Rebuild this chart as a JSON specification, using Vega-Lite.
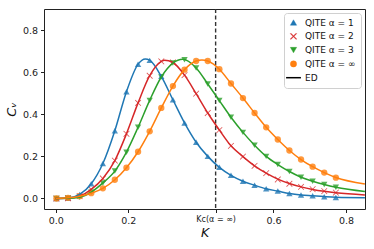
{
  "$schema": "https://vega.github.io/schema/vega-lite/v6.json",
  "width": 321,
  "height": 200,
  "autosize": {"type": "none"},
  "padding": {"left": 44, "top": 9, "right": 9, "bottom": 40},
  "config": {
    "font": "DejaVu Sans",
    "view": {"stroke": "#222", "strokeWidth": 1},
    "axis": {"grid": false, "domain": false, "tickColor": "#222", "tickSize": 3.5, "labelFontSize": 9.5, "labelColor": "#222", "titleColor": "#111", "titleFontWeight": "normal"}
  },
  "datasets": {
    "qite": [
      {"s": "QITE α = 1", "K": 0.002, "C": 0.0}, {"s": "QITE α = 1", "K": 0.034, "C": 0.002}, {"s": "QITE α = 1", "K": 0.066, "C": 0.019}, {"s": "QITE α = 1", "K": 0.098, "C": 0.07}, {"s": "QITE α = 1", "K": 0.130, "C": 0.166}, {"s": "QITE α = 1", "K": 0.163, "C": 0.322}, {"s": "QITE α = 1", "K": 0.195, "C": 0.507}, {"s": "QITE α = 1", "K": 0.227, "C": 0.638}, {"s": "QITE α = 1", "K": 0.259, "C": 0.656}, {"s": "QITE α = 1", "K": 0.291, "C": 0.58}, {"s": "QITE α = 1", "K": 0.323, "C": 0.469}, {"s": "QITE α = 1", "K": 0.355, "C": 0.359}, {"s": "QITE α = 1", "K": 0.387, "C": 0.267}, {"s": "QITE α = 1", "K": 0.419, "C": 0.2}, {"s": "QITE α = 1", "K": 0.451, "C": 0.148}, {"s": "QITE α = 1", "K": 0.483, "C": 0.11}, {"s": "QITE α = 1", "K": 0.516, "C": 0.082}, {"s": "QITE α = 1", "K": 0.548, "C": 0.063}, {"s": "QITE α = 1", "K": 0.580, "C": 0.046}, {"s": "QITE α = 1", "K": 0.612, "C": 0.035}, {"s": "QITE α = 1", "K": 0.644, "C": 0.024}, {"s": "QITE α = 1", "K": 0.676, "C": 0.017}, {"s": "QITE α = 1", "K": 0.708, "C": 0.013}, {"s": "QITE α = 1", "K": 0.740, "C": 0.008}, {"s": "QITE α = 1", "K": 0.772, "C": 0.005},
      {"s": "QITE α = 2", "K": 0.002, "C": 0.0}, {"s": "QITE α = 2", "K": 0.034, "C": 0.001}, {"s": "QITE α = 2", "K": 0.066, "C": 0.011}, {"s": "QITE α = 2", "K": 0.098, "C": 0.043}, {"s": "QITE α = 2", "K": 0.130, "C": 0.095}, {"s": "QITE α = 2", "K": 0.163, "C": 0.18}, {"s": "QITE α = 2", "K": 0.195, "C": 0.307}, {"s": "QITE α = 2", "K": 0.227, "C": 0.454}, {"s": "QITE α = 2", "K": 0.259, "C": 0.583}, {"s": "QITE α = 2", "K": 0.291, "C": 0.651}, {"s": "QITE α = 2", "K": 0.323, "C": 0.646}, {"s": "QITE α = 2", "K": 0.355, "C": 0.586}, {"s": "QITE α = 2", "K": 0.387, "C": 0.498}, {"s": "QITE α = 2", "K": 0.419, "C": 0.406}, {"s": "QITE α = 2", "K": 0.451, "C": 0.325}, {"s": "QITE α = 2", "K": 0.483, "C": 0.25}, {"s": "QITE α = 2", "K": 0.516, "C": 0.199}, {"s": "QITE α = 2", "K": 0.548, "C": 0.155}, {"s": "QITE α = 2", "K": 0.580, "C": 0.12}, {"s": "QITE α = 2", "K": 0.612, "C": 0.09}, {"s": "QITE α = 2", "K": 0.644, "C": 0.07}, {"s": "QITE α = 2", "K": 0.676, "C": 0.055}, {"s": "QITE α = 2", "K": 0.708, "C": 0.044}, {"s": "QITE α = 2", "K": 0.740, "C": 0.035}, {"s": "QITE α = 2", "K": 0.772, "C": 0.028},
      {"s": "QITE α = 3", "K": 0.002, "C": 0.0}, {"s": "QITE α = 3", "K": 0.034, "C": 0.001}, {"s": "QITE α = 3", "K": 0.066, "C": 0.006}, {"s": "QITE α = 3", "K": 0.098, "C": 0.03}, {"s": "QITE α = 3", "K": 0.130, "C": 0.074}, {"s": "QITE α = 3", "K": 0.163, "C": 0.13}, {"s": "QITE α = 3", "K": 0.195, "C": 0.22}, {"s": "QITE α = 3", "K": 0.227, "C": 0.338}, {"s": "QITE α = 3", "K": 0.259, "C": 0.466}, {"s": "QITE α = 3", "K": 0.291, "C": 0.577}, {"s": "QITE α = 3", "K": 0.323, "C": 0.643}, {"s": "QITE α = 3", "K": 0.355, "C": 0.659}, {"s": "QITE α = 3", "K": 0.387, "C": 0.62}, {"s": "QITE α = 3", "K": 0.419, "C": 0.544}, {"s": "QITE α = 3", "K": 0.451, "C": 0.465}, {"s": "QITE α = 3", "K": 0.483, "C": 0.386}, {"s": "QITE α = 3", "K": 0.516, "C": 0.314}, {"s": "QITE α = 3", "K": 0.548, "C": 0.253}, {"s": "QITE α = 3", "K": 0.580, "C": 0.2}, {"s": "QITE α = 3", "K": 0.612, "C": 0.161}, {"s": "QITE α = 3", "K": 0.644, "C": 0.128}, {"s": "QITE α = 3", "K": 0.676, "C": 0.101}, {"s": "QITE α = 3", "K": 0.708, "C": 0.082}, {"s": "QITE α = 3", "K": 0.740, "C": 0.066}, {"s": "QITE α = 3", "K": 0.772, "C": 0.053},
      {"s": "QITE α = ∞", "K": 0.002, "C": 0.0}, {"s": "QITE α = ∞", "K": 0.034, "C": 0.003}, {"s": "QITE α = ∞", "K": 0.066, "C": 0.011}, {"s": "QITE α = ∞", "K": 0.098, "C": 0.025}, {"s": "QITE α = ∞", "K": 0.130, "C": 0.048}, {"s": "QITE α = ∞", "K": 0.163, "C": 0.089}, {"s": "QITE α = ∞", "K": 0.195, "C": 0.146}, {"s": "QITE α = ∞", "K": 0.227, "C": 0.222}, {"s": "QITE α = ∞", "K": 0.259, "C": 0.319}, {"s": "QITE α = ∞", "K": 0.291, "C": 0.43}, {"s": "QITE α = ∞", "K": 0.323, "C": 0.534}, {"s": "QITE α = ∞", "K": 0.355, "C": 0.612}, {"s": "QITE α = ∞", "K": 0.387, "C": 0.653}, {"s": "QITE α = ∞", "K": 0.419, "C": 0.653}, {"s": "QITE α = ∞", "K": 0.451, "C": 0.614}, {"s": "QITE α = ∞", "K": 0.483, "C": 0.546}, {"s": "QITE α = ∞", "K": 0.516, "C": 0.477}, {"s": "QITE α = ∞", "K": 0.548, "C": 0.406}, {"s": "QITE α = ∞", "K": 0.580, "C": 0.338}, {"s": "QITE α = ∞", "K": 0.612, "C": 0.28}, {"s": "QITE α = ∞", "K": 0.644, "C": 0.228}, {"s": "QITE α = ∞", "K": 0.676, "C": 0.185}, {"s": "QITE α = ∞", "K": 0.708, "C": 0.151}, {"s": "QITE α = ∞", "K": 0.740, "C": 0.123}, {"s": "QITE α = ∞", "K": 0.772, "C": 0.099}
    ],
    "ed": [
      {"s": "QITE α = 1", "K": 0.0, "C": 0.0}, {"s": "QITE α = 1", "K": 0.034, "C": 0.002}, {"s": "QITE α = 1", "K": 0.066, "C": 0.019}, {"s": "QITE α = 1", "K": 0.098, "C": 0.07}, {"s": "QITE α = 1", "K": 0.130, "C": 0.166}, {"s": "QITE α = 1", "K": 0.163, "C": 0.322}, {"s": "QITE α = 1", "K": 0.195, "C": 0.507}, {"s": "QITE α = 1", "K": 0.227, "C": 0.638}, {"s": "QITE α = 1", "K": 0.247, "C": 0.663}, {"s": "QITE α = 1", "K": 0.259, "C": 0.657}, {"s": "QITE α = 1", "K": 0.291, "C": 0.58}, {"s": "QITE α = 1", "K": 0.323, "C": 0.469}, {"s": "QITE α = 1", "K": 0.355, "C": 0.359}, {"s": "QITE α = 1", "K": 0.387, "C": 0.267}, {"s": "QITE α = 1", "K": 0.419, "C": 0.2}, {"s": "QITE α = 1", "K": 0.451, "C": 0.148}, {"s": "QITE α = 1", "K": 0.483, "C": 0.11}, {"s": "QITE α = 1", "K": 0.516, "C": 0.082}, {"s": "QITE α = 1", "K": 0.548, "C": 0.063}, {"s": "QITE α = 1", "K": 0.580, "C": 0.046}, {"s": "QITE α = 1", "K": 0.612, "C": 0.035}, {"s": "QITE α = 1", "K": 0.644, "C": 0.024}, {"s": "QITE α = 1", "K": 0.676, "C": 0.017}, {"s": "QITE α = 1", "K": 0.708, "C": 0.013}, {"s": "QITE α = 1", "K": 0.740, "C": 0.009}, {"s": "QITE α = 1", "K": 0.772, "C": 0.006}, {"s": "QITE α = 1", "K": 0.852, "C": 0.004},
      {"s": "QITE α = 2", "K": 0.0, "C": 0.0}, {"s": "QITE α = 2", "K": 0.034, "C": 0.001}, {"s": "QITE α = 2", "K": 0.066, "C": 0.011}, {"s": "QITE α = 2", "K": 0.098, "C": 0.043}, {"s": "QITE α = 2", "K": 0.130, "C": 0.095}, {"s": "QITE α = 2", "K": 0.163, "C": 0.18}, {"s": "QITE α = 2", "K": 0.195, "C": 0.307}, {"s": "QITE α = 2", "K": 0.227, "C": 0.454}, {"s": "QITE α = 2", "K": 0.259, "C": 0.583}, {"s": "QITE α = 2", "K": 0.291, "C": 0.651}, {"s": "QITE α = 2", "K": 0.300, "C": 0.657}, {"s": "QITE α = 2", "K": 0.323, "C": 0.646}, {"s": "QITE α = 2", "K": 0.355, "C": 0.586}, {"s": "QITE α = 2", "K": 0.387, "C": 0.498}, {"s": "QITE α = 2", "K": 0.419, "C": 0.406}, {"s": "QITE α = 2", "K": 0.451, "C": 0.325}, {"s": "QITE α = 2", "K": 0.483, "C": 0.25}, {"s": "QITE α = 2", "K": 0.516, "C": 0.199}, {"s": "QITE α = 2", "K": 0.548, "C": 0.155}, {"s": "QITE α = 2", "K": 0.580, "C": 0.12}, {"s": "QITE α = 2", "K": 0.612, "C": 0.092}, {"s": "QITE α = 2", "K": 0.644, "C": 0.071}, {"s": "QITE α = 2", "K": 0.676, "C": 0.055}, {"s": "QITE α = 2", "K": 0.708, "C": 0.043}, {"s": "QITE α = 2", "K": 0.740, "C": 0.034}, {"s": "QITE α = 2", "K": 0.772, "C": 0.027}, {"s": "QITE α = 2", "K": 0.852, "C": 0.017},
      {"s": "QITE α = 3", "K": 0.0, "C": 0.0}, {"s": "QITE α = 3", "K": 0.034, "C": 0.001}, {"s": "QITE α = 3", "K": 0.066, "C": 0.006}, {"s": "QITE α = 3", "K": 0.098, "C": 0.03}, {"s": "QITE α = 3", "K": 0.130, "C": 0.074}, {"s": "QITE α = 3", "K": 0.163, "C": 0.13}, {"s": "QITE α = 3", "K": 0.195, "C": 0.22}, {"s": "QITE α = 3", "K": 0.227, "C": 0.338}, {"s": "QITE α = 3", "K": 0.259, "C": 0.466}, {"s": "QITE α = 3", "K": 0.291, "C": 0.577}, {"s": "QITE α = 3", "K": 0.323, "C": 0.643}, {"s": "QITE α = 3", "K": 0.350, "C": 0.661}, {"s": "QITE α = 3", "K": 0.387, "C": 0.62}, {"s": "QITE α = 3", "K": 0.419, "C": 0.544}, {"s": "QITE α = 3", "K": 0.451, "C": 0.465}, {"s": "QITE α = 3", "K": 0.483, "C": 0.386}, {"s": "QITE α = 3", "K": 0.516, "C": 0.314}, {"s": "QITE α = 3", "K": 0.548, "C": 0.253}, {"s": "QITE α = 3", "K": 0.580, "C": 0.2}, {"s": "QITE α = 3", "K": 0.612, "C": 0.161}, {"s": "QITE α = 3", "K": 0.644, "C": 0.128}, {"s": "QITE α = 3", "K": 0.676, "C": 0.101}, {"s": "QITE α = 3", "K": 0.708, "C": 0.082}, {"s": "QITE α = 3", "K": 0.740, "C": 0.066}, {"s": "QITE α = 3", "K": 0.772, "C": 0.053}, {"s": "QITE α = 3", "K": 0.852, "C": 0.033},
      {"s": "QITE α = ∞", "K": 0.0, "C": 0.0}, {"s": "QITE α = ∞", "K": 0.034, "C": 0.003}, {"s": "QITE α = ∞", "K": 0.066, "C": 0.011}, {"s": "QITE α = ∞", "K": 0.098, "C": 0.025}, {"s": "QITE α = ∞", "K": 0.130, "C": 0.048}, {"s": "QITE α = ∞", "K": 0.163, "C": 0.089}, {"s": "QITE α = ∞", "K": 0.195, "C": 0.146}, {"s": "QITE α = ∞", "K": 0.227, "C": 0.222}, {"s": "QITE α = ∞", "K": 0.259, "C": 0.319}, {"s": "QITE α = ∞", "K": 0.291, "C": 0.43}, {"s": "QITE α = ∞", "K": 0.323, "C": 0.534}, {"s": "QITE α = ∞", "K": 0.355, "C": 0.612}, {"s": "QITE α = ∞", "K": 0.387, "C": 0.653}, {"s": "QITE α = ∞", "K": 0.403, "C": 0.658}, {"s": "QITE α = ∞", "K": 0.419, "C": 0.653}, {"s": "QITE α = ∞", "K": 0.451, "C": 0.614}, {"s": "QITE α = ∞", "K": 0.483, "C": 0.546}, {"s": "QITE α = ∞", "K": 0.516, "C": 0.477}, {"s": "QITE α = ∞", "K": 0.548, "C": 0.406}, {"s": "QITE α = ∞", "K": 0.580, "C": 0.338}, {"s": "QITE α = ∞", "K": 0.612, "C": 0.28}, {"s": "QITE α = ∞", "K": 0.644, "C": 0.228}, {"s": "QITE α = ∞", "K": 0.676, "C": 0.185}, {"s": "QITE α = ∞", "K": 0.708, "C": 0.151}, {"s": "QITE α = ∞", "K": 0.740, "C": 0.123}, {"s": "QITE α = ∞", "K": 0.772, "C": 0.1}, {"s": "QITE α = ∞", "K": 0.852, "C": 0.069}
    ],
    "kc": [{"K": 0.4407}]
  },
  "layer": [
    {
      "data": {"name": "kc"},
      "mark": {"type": "rule", "strokeDash": [4, 2.5], "color": "#333", "strokeWidth": 1.4},
      "encoding": {"x": {"field": "K", "type": "quantitative"}}
    },
    {
      "data": {"name": "qite"},
      "mark": {"type": "point", "filled": true, "opacity": 0.8, "size": 40, "clip": true},
      "encoding": {
        "x": {
          "field": "K", "type": "quantitative",
          "scale": {"domain": [-0.0322, 0.8523], "nice": false, "zero": false},
          "axis": {"values": [0, 0.2, 0.4407, 0.6, 0.8], "labelExpr": "datum.value > 0.43 && datum.value < 0.45 ? 'Kc(α = ∞)' : format(datum.value, '.1f')", "labelFontSize": {"condition": {"test": "datum.value > 0.43 && datum.value < 0.45", "value": 8}, "value": 9.5}, "title": "K", "titleFontStyle": "italic", "titleFontSize": 12.5, "labelPadding": 3, "titlePadding": 1}
        },
        "y": {
          "field": "C", "type": "quantitative",
          "scale": {"domain": [-0.05, 0.9], "nice": false, "zero": false},
          "axis": {"values": [0, 0.2, 0.4, 0.6, 0.8], "format": ".1f", "title": "Cᵥ", "titleFontStyle": "italic", "titleFontSize": 13, "labelPadding": 3, "titlePadding": 4}
        },
        "color": {
          "field": "s", "type": "nominal",
          "scale": {"domain": ["QITE α = 1", "QITE α = 2", "QITE α = 3", "QITE α = ∞", "ED"], "range": ["#1f77b4", "#d62728", "#2ca02c", "#ff7f0e", "#000000"]},
          "legend": {
            "title": null, "orient": "top-right", "offset": 4, "padding": 5, "strokeColor": "#d0d0d0", "fillColor": "white", "cornerRadius": 3,
            "labelFontSize": 9, "labelColor": "#111", "symbolSize": 200, "rowPadding": 3.8, "labelOffset": 7, "symbolOpacity": 1,
            "encode": {"symbols": {"update": {"size": {"signal": "datum.value === 'ED' ? 220 : 40"}, "stroke": {"scale": "color", "field": "value"}, "strokeWidth": {"signal": "datum.value === 'ED' ? 1.5 : 0.4"}}}}
          }
        },
        "shape": {
          "field": "s", "type": "nominal",
          "scale": {"domain": ["QITE α = 1", "QITE α = 2", "QITE α = 3", "QITE α = ∞", "ED"], "range": ["triangle-up", "M-0.82,-1L0,-0.18L0.82,-1L1,-0.82L0.18,0L1,0.82L0.82,1L0,0.18L-0.82,1L-1,0.82L-0.18,0L-1,-0.82Z", "triangle-down", "circle", "stroke"]}
        }
      }
    },
    {
      "data": {"name": "ed"},
      "mark": {"type": "line", "interpolate": "monotone", "strokeWidth": 1.5, "clip": true},
      "encoding": {
        "x": {"field": "K", "type": "quantitative"},
        "y": {"field": "C", "type": "quantitative"},
        "stroke": {"field": "s", "type": "nominal", "scale": {"domain": ["QITE α = 1", "QITE α = 2", "QITE α = 3", "QITE α = ∞"], "range": ["#1f77b4", "#d62728", "#2ca02c", "#ff7f0e"]}, "legend": null}
      }
    }
  ]
}
